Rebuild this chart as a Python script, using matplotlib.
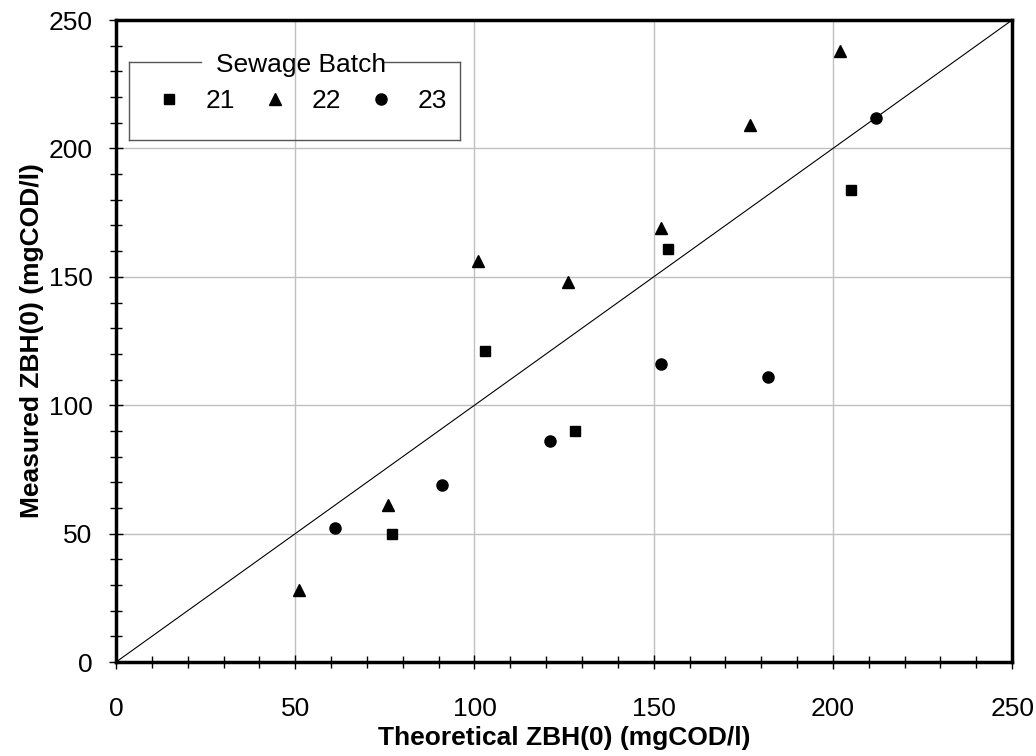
import matplotlib
matplotlib.use("Agg")
import matplotlib.pyplot as plt
from matplotlib.ticker import MultipleLocator

plt.rcParams['font.family'] = ['Liberation Sans', 'DejaVu Sans']

# Sewage batch 21 (squares)
b21_x = [77, 103, 128, 154, 205]
b21_y = [50, 121, 90, 161, 184]
# Sewage batch 22 (triangles)
b22_x = [51, 76, 101, 126, 152, 177, 202]
b22_y = [28, 61, 156, 148, 169, 209, 238]
# Sewage batch 23 (circles)
b23_x = [61, 91, 121, 152, 182, 212]
b23_y = [52, 69, 86, 116, 111, 212]

line_xy = [0, 250]

fig = plt.figure(figsize=(10.36, 7.56), dpi=100)
ax = fig.add_axes([0.112, 0.1243, 0.865, 0.8492])

ax.set_xlim(0, 250)
ax.set_ylim(0, 250)
ax.xaxis.set_major_locator(MultipleLocator(50))
ax.yaxis.set_major_locator(MultipleLocator(50))
ax.xaxis.set_minor_locator(MultipleLocator(10))
ax.yaxis.set_minor_locator(MultipleLocator(10))
ax.grid(True, which='major', color='#c0c0c0', linewidth=1.0)
ax.set_axisbelow(True)

ax.plot(line_xy, line_xy, color='black', linewidth=0.8, zorder=2)

ax.plot(b21_x, b21_y, linestyle='none', marker='s', color='black', markersize=7.5, label='21', zorder=3)
ax.plot(b22_x, b22_y, linestyle='none', marker='^', color='black', markersize=8.5, label='22', zorder=3)
ax.plot(b23_x, b23_y, linestyle='none', marker='o', color='black', markersize=8, label='23', zorder=3)

for s in ax.spines.values():
    s.set_linewidth(2.5)
    s.set_color('black')

ax.tick_params(axis='x', which='both', direction='inout', length=10, width=1, labelsize=19, pad=20)
ax.tick_params(axis='y', which='both', direction='inout', length=10, width=1, labelsize=19, pad=12)
ax.tick_params(axis='both', which='minor', length=9)

ax.set_xlabel('Theoretical ZBH(0) (mgCOD/l)', fontsize=19, fontweight='bold', labelpad=4)
ax.set_ylabel('Measured ZBH(0) (mgCOD/l)', fontsize=19, fontweight='bold', labelpad=3)

leg = ax.legend(ncol=3, frameon=False, loc='center', bbox_to_anchor=(0.207, 0.902),
                fontsize=19, handletextpad=0.9, columnspacing=1.0, handlelength=1.0,
                title='Sewage Batch', title_fontsize=19, borderpad=0.0, labelspacing=0.45)

# custom legend frame with gap for the title
l, r, t, b = 0.0145, 0.384, 0.9346, 0.813
g1, g2 = 0.095, 0.297
kw = dict(transform=ax.transAxes, color='#555555', linewidth=1.0, clip_on=False, zorder=4)
ax.plot([l, g1], [t, t], **kw)
ax.plot([g2, r], [t, t], **kw)
ax.plot([l, l], [t, b], **kw)
ax.plot([r, r], [t, b], **kw)
ax.plot([l, r], [b, b], **kw)

fig.savefig('out.png', dpi=100)
